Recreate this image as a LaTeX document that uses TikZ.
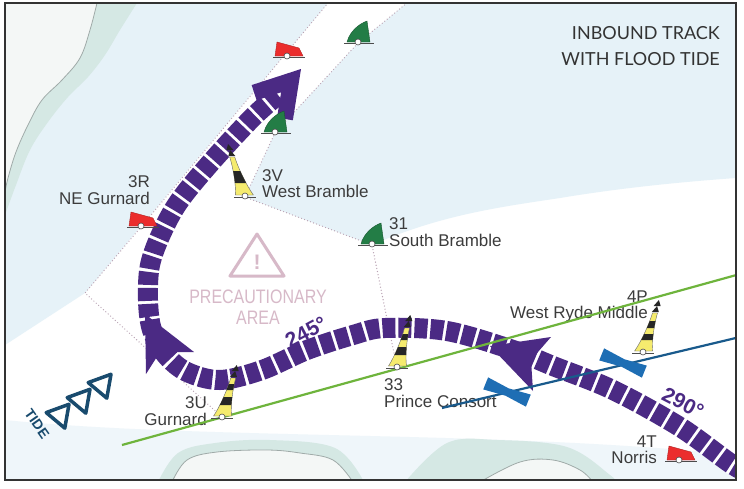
\documentclass[tikz,border=0pt]{standalone}
\usepackage{fontspec}
\setmainfont{Liberation Sans}
\newfontfamily\titlefont{Lato}
\newfontfamily\narrowfont[FakeStretch=0.82]{Liberation Sans}
\usetikzlibrary{calc}
\definecolor{water}{HTML}{E6F2F8}
\definecolor{waterlight}{HTML}{EFF6FA}
\definecolor{fringe}{HTML}{D5E8E4}
\definecolor{landfill}{HTML}{F4F7F6}
\definecolor{coast}{HTML}{9FAAA8}
\definecolor{track}{HTML}{4B2A84}
\definecolor{dotc}{HTML}{B9A2B3}
\definecolor{buoyred}{HTML}{EB2D2D}
\definecolor{buoygreen}{HTML}{237D46}
\definecolor{buoyyellow}{HTML}{F5EB6E}
\definecolor{lineg}{HTML}{6EB43C}
\definecolor{lineb}{HTML}{195A8C}
\definecolor{markb}{HTML}{1E6EB4}
\definecolor{pinkc}{HTML}{D7B9C8}
\definecolor{tidec}{HTML}{194B6E}
\definecolor{labelc}{HTML}{3C3C3C}
\definecolor{framec}{HTML}{333333}
\tikzset{
  chanline/.style={draw=dotc, line width=1.3pt, dash pattern=on 0pt off 3.2pt, line cap=round},
  trackline/.style={draw=track, line width=20pt, dash pattern=on 13pt off 3pt,
                    preaction={draw=white, line width=20pt, solid}},
  lbl/.style={text=labelc, font=\fontsize{17}{17}\selectfont, inner sep=0pt},
  anglelbl/.style={text=track, font=\bfseries\fontsize{21}{21}\selectfont, inner sep=0pt},
  titlelbl/.style={text=framec, font=\titlefont\fontsize{18}{18}\selectfont, inner sep=0pt},
  pinklbl/.style={text=pinkc, font=\narrowfont\fontsize{19.5}{19.5}\selectfont, inner sep=0pt},
  baseline/.style={draw=black!70, line width=0.8pt},
  basecircle/.style={fill=white, draw=black!70, line width=0.6pt},
  tidetri/.style={draw=tidec, line width=3.5pt, line join=round}
}
\newcommand\cardbuoy[4]{%
  \begin{scope}[shift={(#1,#2)}]
    \begin{scope}[xslant=#3]
      \path[fill=buoyyellow, draw=black!60, line width=0.4pt]
        (-9,-2) .. controls (-5,-12) and (-2.5,-30) .. (-2.5,-40) -- (2.5,-40)
        .. controls (2.5,-30) and (5,-12) .. (9,-2) -- cycle;
      \begin{scope}
        \clip (-9,-2) .. controls (-5,-12) and (-2.5,-30) .. (-2.5,-40) -- (2.5,-40)
          .. controls (2.5,-30) and (5,-12) .. (9,-2) -- cycle;
        #4
      \end{scope}
      \fill[black!85] (-3.5,-41) -- (3.5,-41) -- (0,-47) -- cycle;
      \fill[black!85] (-3.5,-47) -- (3.5,-47) -- (0,-53) -- cycle;
    \end{scope}
    \draw[baseline] (-11,0) -- (11,0);
    \path[basecircle] (0,-1) circle (3);
  \end{scope}}
\newcommand\canbuoy[2]{%
  \begin{scope}[shift={(#1,#2)}]
    \path[fill=buoyred, draw=buoyred!75!black, line width=0.4pt] (-10,-15) -- (12,-9) -- (16,-1) -- (-12,-1) -- cycle;
    \draw[baseline] (-14,0) -- (18,0);
    \path[basecircle] (0,-1) circle (3);
  \end{scope}}
\newcommand\conebuoy[2]{%
  \begin{scope}[shift={(#1,#2)}]
    \path[fill=buoygreen, draw=buoygreen!70!black, line width=0.4pt] (-11,-1) .. controls (-8,-12) and (1,-19) .. (9,-22) -- (12,-1) -- cycle;
    \draw[baseline] (-14,0) -- (16,0);
    \path[basecircle] (0,-1) circle (3);
  \end{scope}}
\newcommand\beacon[2]{%
  \begin{scope}[shift={(#1,#2)}, rotate=-22]
    \fill[markb] (-23,-6.5) -- (0,-4) -- (23,-6.5) -- (23,6.5) -- (0,4) -- (-23,6.5) -- cycle;
  \end{scope}}
\begin{document}
\begin{tikzpicture}[x=1pt,y=-1pt]
\useasboundingbox (0,0) rectangle (744,488);
\fill[white] (0,0) rectangle (744,488);
\begin{scope}
\clip (5,3) rectangle (736,480);
% water
\fill[water] (5,3) -- (328,3) -- (85,293) -- (5,345) -- cycle;
\fill[water] (407,3) -- (736,3) -- (736,178) .. controls (680,182) and (620,188) .. (560,198)
   .. controls (500,207) and (440,215) .. (372,245) -- (245,197) -- (275,133) -- (358,43) -- cycle;
\fill[waterlight] (5,420) .. controls (200,440) and (500,430) .. (736,455) -- (736,480) -- (5,480) -- cycle;
% top-left land
\fill[fringe] plot[smooth, tension=0.6] coordinates {(137,3) (120,30) (105,55) (88,77) (68,97) (48,122) (30,150) (16,185) (5,215)} -- (0,215) -- (0,3) -- cycle;
\fill[landfill] plot[smooth, tension=0.6] coordinates {(97,3) (90,30) (80,58) (62,80) (42,100) (28,125) (16,152) (8,178) (5,192)} -- (0,192) -- (0,3) -- cycle;
\draw[coast, line width=0.8pt] plot[smooth, tension=0.6] coordinates {(97,3) (90,30) (80,58) (62,80) (42,100) (28,125) (16,152) (8,178) (5,192)};
% bottom land
\fill[fringe] plot[smooth, tension=0.6] coordinates {(158,482) (178,453) (215,443) (270,440) (335,448) (364,482)};
\fill[landfill] plot[smooth, tension=0.6] coordinates {(172,482) (187,460) (217,452) (267,450) (300,453) (333,460) (353,482)};
\draw[coast, line width=0.8pt] plot[smooth, tension=0.6] coordinates {(172,482) (187,460) (217,452) (267,450) (300,453) (333,460) (353,482)};
\fill[fringe] plot[smooth, tension=0.6] coordinates {(405,482) (447,443) (497,440) (567,447) (610,475) (615,482)};
\fill[landfill] plot[smooth, tension=0.6] coordinates {(480,482) (520,462) (553,460) (580,470) (593,482)};
\draw[coast, line width=0.8pt] plot[smooth, tension=0.6] coordinates {(480,482) (520,462) (553,460) (580,470) (593,482)};
% channel limits
\coordinate (ltop) at (328,3);
\coordinate (rtop) at (407,3);
\coordinate (pcorner) at (85,293);
\draw[chanline] (ltop) -- (141,227) -- (pcorner) -- (222,417);
\draw[chanline] (rtop) -- (358,43) -- (275,133) -- (245,197) -- (372,245) -- (397,368);
% precautionary area
\draw[pinkc, line width=3pt, line join=round] (257,234) -- (284,276) -- (230,276) -- cycle;
\node[text=pinkc, font=\bfseries\fontsize{21}{21}\selectfont, inner sep=0pt, anchor=base] (excl) at (257,269) {!};
\node[pinklbl, anchor=base] (prec) at (258,303) {PRECAUTIONARY};
\node[pinklbl, anchor=base] (area) at (258,324) {AREA};
% track
\draw[trackline] plot[smooth, tension=0.55] coordinates {(760,478) (733,465) (680,427) (613,390) (553,366) (513,350) (447,331) (385,328) (353,335) (307,350) (262,370) (220,380) (187,372) (166,355) (152,330) (148,300) (150,265) (162,232) (180,200) (213,160) (253,117) (278,95)};
\fill[track] (490,346) -- (551,337) -- (531,360) -- (533,391) -- cycle;
\fill[track] (145,314) -- (194,352) -- (160,352) -- (146,374) -- cycle;
\fill[track] (301,69) -- (292.85,120.26) -- (277.05,117.74) -- (281.1,92.3) -- (256.6,100.3) -- (251.65,85.08) -- cycle;
% labels
\node[lbl, anchor=base west] (l3v) at (262,181) {3V};
\node[lbl, anchor=base west] (lwb) at (262,197) {West Bramble};
\node[lbl, anchor=base east] (l3r) at (150,187) {3R};
\node[lbl, anchor=base east] (lneg) at (150,204) {NE Gurnard};
\node[lbl, anchor=base west] (l31) at (389,229) {31};
\node[lbl, anchor=base west] (lsb) at (389,246) {South Bramble};
\node[lbl, anchor=base east] (l3u) at (207,408) {3U};
\node[lbl, anchor=base east] (lgu) at (207,425) {Gurnard};
\node[lbl, anchor=base west] (l33) at (384,390) {33};
\node[lbl, anchor=base west] (lpc) at (384,407) {Prince Consort};
\node[lbl, anchor=base east] (l4p) at (648,302) {4P};
\node[lbl, anchor=base east] (lwr) at (648,318) {West Ryde Middle};
\node[lbl, anchor=base east] (l4t) at (657,447) {4T};
\node[lbl, anchor=base east] (lno) at (657,463) {Norris};
% transit lines
\draw[lineg, line width=2.2pt] (122,445) -- (740,274);
\draw[lineb, line width=2.2pt] (442,408) -- (740,337);
\beacon{507}{392}
\beacon{623}{363}
% buoys
\canbuoy{287}{57}
\canbuoy{141}{227}
\canbuoy{679}{461}
\conebuoy{358}{43}
\conebuoy{275}{133}
\conebuoy{372}{245}
\cardbuoy{245}{197}{-0.32}{\fill[black!85] (-12,-14) rectangle (12,-26);}
\cardbuoy{222}{418}{0.28}{\fill[black!85] (-12,-13) rectangle (12,-21); \fill[black!85] (-12,-28) rectangle (12,-34);}
\cardbuoy{397}{368}{0.25}{\fill[black!85] (-12,-13) rectangle (12,-21); \fill[black!85] (-12,-28) rectangle (12,-34);}
\cardbuoy{643}{353}{0.3}{\fill[black!85] (-12,-13) rectangle (12,-19); \fill[black!85] (-12,-25) rectangle (12,-32);}
% angles
\node[anglelbl, rotate=28] (a245) at (306,332) {245°};
\node[anglelbl, rotate=-27] (a290) at (683,403) {290°};
% title
\node[titlelbl, anchor=base east] (t1) at (720,39) {INBOUND TRACK};
\node[titlelbl, anchor=base east] (t2) at (720,65) {WITH FLOOD TIDE};
% tide
\node[text=tidec, font=\bfseries\fontsize{14}{14}\selectfont, inner sep=0pt, rotate=-55] (tide) at (37,424) {TIDE};
\foreach \cx/\cy in {60/415, 81/400, 102/385}
  \draw[tidetri] (\cx,\cy) +(70:14) -- +(190:14) -- +(310:14) -- cycle;
\end{scope}
\draw[framec, line width=1.5pt] (5,3) rectangle (736,480);
\end{tikzpicture}
\end{document}
